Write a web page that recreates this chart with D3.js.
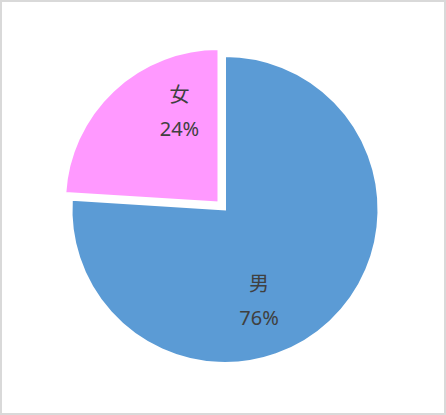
<!DOCTYPE html>
<html>
<head>
<meta charset="utf-8">
<script src="https://cdn.jsdelivr.net/npm/d3@7/dist/d3.min.js"></script>
<style>
  html, body { margin: 0; padding: 0; background: #fff; }
  svg { display: block; }
</style>
</head>
<body>
<script>
// ---- data ----
const categories = ["男", "女"];
const values = [76, 24];
const percentLabels = ["76%", "24%"];
const colors = ["#5B9BD5", "#FF99FF"];
const explode = [0, 9.5];

// ---- layout ----
const W = 446, H = 415;
const cx = 225, cy = 209.5, R = 153.5;
const labelR = 98, labelShift = 21.3 * Math.PI / 180, labelNudgeX = -2.5;

const svg = d3.select("body").append("svg")
  .attr("width", W).attr("height", H);

svg.append("rect")
  .attr("x", 1).attr("y", 1).attr("width", W - 2).attr("height", H - 2)
  .attr("fill", "#fff").attr("stroke", "#d9d9d9").attr("stroke-width", 2);

const pie = d3.pie().sort(null).value(d => d.value);
const data = categories.map((c, i) => ({ name: c, value: values[i], pct: percentLabels[i], color: colors[i], explode: explode[i] }));
const arcs = pie(data);

const arc = d3.arc().innerRadius(0).outerRadius(R);

const g = svg.append("g").attr("transform", `translate(${cx},${cy})`);

const slice = g.selectAll("g.slice").data(arcs).enter().append("g")
  .attr("class", "slice")
  .attr("transform", d => {
    const mid = (d.startAngle + d.endAngle) / 2;
    const e = d.data.explode;
    return `translate(${e * Math.sin(mid)},${-e * Math.cos(mid)})`;
  });

slice.append("path")
  .attr("d", arc)
  .attr("fill", d => d.data.color)
  .attr("stroke", "#fff")
  .attr("stroke-width", 2);

const lab = slice.append("g")
  .attr("transform", d => {
    const a = (d.startAngle + d.endAngle) / 2 + labelShift;
    return `translate(${labelR * Math.sin(a) + labelNudgeX},${-labelR * Math.cos(a)})`;
  })
  .attr("text-anchor", "middle")
  .attr("fill", "#404040")
  .style("font-family", "'Noto Sans', 'Noto Sans CJK JP', sans-serif")
  .style("font-size", "20px");

lab.append("text").attr("y", -9.5).text(d => d.data.name);
lab.append("text").attr("y", 24.5).text(d => d.data.pct);
</script>
</body>
</html>
